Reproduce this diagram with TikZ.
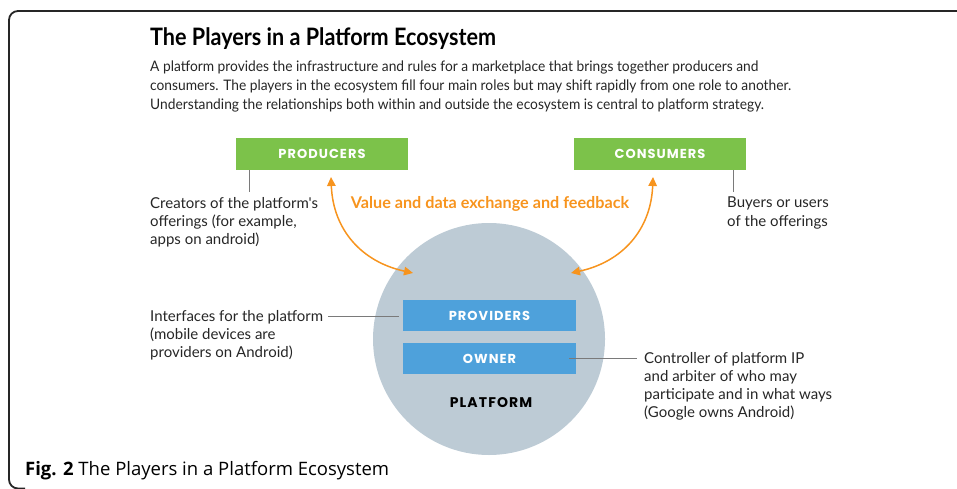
\documentclass[tikz,border=0pt]{standalone}
\usepackage{fontspec}
\usetikzlibrary{arrows.meta}
\newfontfamily\bodyfont{Lato}
\newfontfamily\parafont[FakeStretch=0.95]{Lato}
\newfontfamily\titlefont[FakeStretch=0.9]{Lato}
\newfontfamily\capsfont[LetterSpace=8]{Poppins}
\newfontfamily\captionfont{Open Sans}
\definecolor{hbrgreen}{HTML}{7CC24A}
\definecolor{hbrblue}{HTML}{4EA1DB}
\definecolor{hbrcircle}{HTML}{BDCBD5}
\definecolor{hbrorange}{HTML}{F7941E}
\definecolor{hbrgray}{HTML}{7A7A7A}
\tikzset{
  greenbox/.style={fill=hbrgreen, minimum width=172pt, minimum height=32pt, inner sep=0pt,
    text=white, font=\capsfont\bfseries\fontsize{13}{13}\selectfont},
  bluebox/.style={fill=hbrblue, minimum width=173pt, minimum height=31pt, inner sep=0pt,
    text=white, font=\capsfont\bfseries\fontsize{13}{13}\selectfont},
  note/.style={anchor=north west, inner sep=0pt, align=left, text=black!85,
    font=\bodyfont\fontsize{15}{18.2}\selectfont},
  leader/.style={draw=hbrgray, line width=0.8pt},
  flow/.style={draw=hbrorange, line width=1.5pt,
    {Triangle[length=9pt,width=8.5pt]}-{Triangle[length=9pt,width=8.5pt]}},
}
\begin{document}
\begin{tikzpicture}[x=1pt,y=-1pt]
\useasboundingbox (0,0) rectangle (957,489);
% frame
\draw[line width=1.8pt, black!85, rounded corners=9pt] (960,11) -- (9,11) -- (9,488.5) -- (25,488.5);
% title and intro
\node[anchor=base west, inner sep=0pt, font=\titlefont\bfseries\fontsize{24}{24}\selectfont] (title) at (150,46) {The Players in a Platform Ecosystem};
\node[anchor=north west, inner sep=0pt, align=left, text=black!85, font=\parafont\fontsize{14.5}{19}\selectfont] (intro) at (150,61)
 {A platform provides the infrastructure and rules for a marketplace that brings together producers and\\
  consumers. The players in the ecosystem fill four main roles but may shift rapidly from one role to another.\\
  Understanding the relationships both within and outside the ecosystem is central to platform strategy.};
% circle
\node[circle, fill=hbrcircle, minimum size=232pt, inner sep=0pt] (platform) at (489,339) {};
\node[font=\capsfont\bfseries\fontsize{14}{14}\selectfont, inner sep=0pt] (platlabel) at (491,403) {PLATFORM};
% boxes
\node[greenbox] (prod) at (322,154) {PRODUCERS};
\node[greenbox] (cons) at (660,154) {CONSUMERS};
\node[bluebox] (prov) at (489.5,315.5) {PROVIDERS};
\node[bluebox] (own) at (489.5,358.5) {OWNER};
% notes
\node[note] (creators) at (150,197) {Creators of the platform's\\offerings (for example,\\apps on android)};
\node[note] (buyers) at (727,197) {Buyers or users\\of the offerings};
\node[note] (interfaces) at (150,310) {Interfaces for the platform\\(mobile devices are\\providers on Android)};
\node[note] (controller) at (644,352) {Controller of platform IP\\and arbiter of who may\\participate and in what ways\\(Google owns Android)};
\node[anchor=base, inner sep=0pt, text=hbrorange, font=\bodyfont\bfseries\fontsize{16.2}{16.2}\selectfont] (flowlabel) at (490,208) {Value and data exchange and feedback};
% leaders
\coordinate (prodfoot) at (249,192);
\coordinate (consfoot) at (733,192);
\draw[leader] (prod.south -| prodfoot) -- (prodfoot);
\draw[leader] (cons.south -| consfoot) -- (consfoot);
\coordinate (provend) at (399,316);
\coordinate (provstart) at (328,316);
\draw[leader] (provstart) -- (provend);
\coordinate (ownstart) at (569,358);
\coordinate (ownend) at (637,358);
\draw[leader] (ownstart) -- (ownend);
% flows
\coordinate (pa) at (331,177);
\coordinate (pb) at (413,273);
\coordinate (ca) at (653,177);
\coordinate (cb) at (571,273);
\draw[flow] (pa) .. controls (333,230) and (362,262) .. (pb);
\draw[flow] (ca) .. controls (651,230) and (622,262) .. (cb);
% caption
\node[anchor=base west, inner sep=0pt, font=\captionfont\fontsize{18.5}{18.5}\selectfont] (caption) at (25,475) {\textbf{Fig. 2} The Players in a Platform Ecosystem};
\end{tikzpicture}
\end{document}
